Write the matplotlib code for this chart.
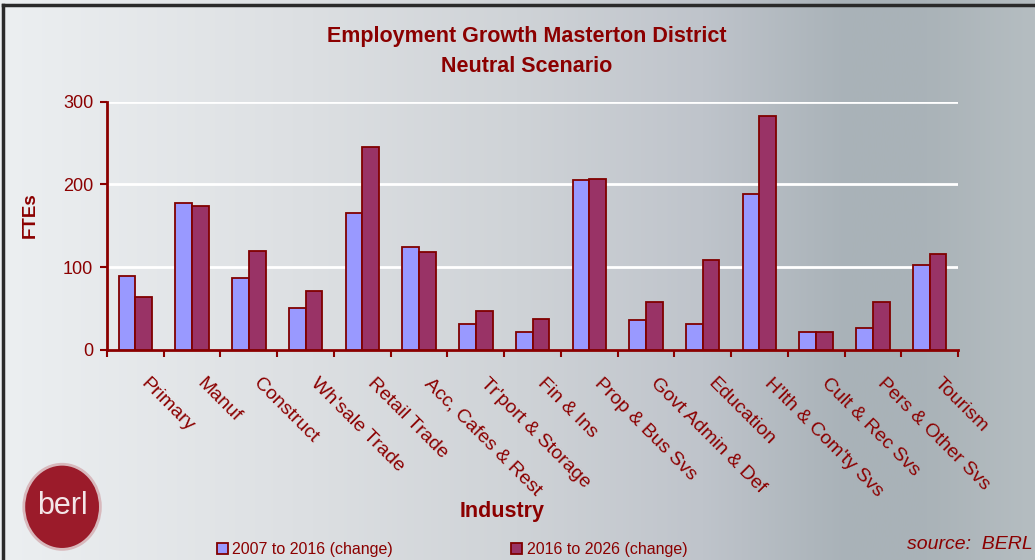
import numpy as np
import matplotlib.pyplot as plt
from matplotlib.patches import Ellipse
from matplotlib.lines import Line2D
from matplotlib.colors import LinearSegmentedColormap

industries = ["Primary", "Manuf", "Construct", "Wh'sale Trade", "Retail Trade",
              "Acc, Cafes & Rest", "Tr'port & Storage", "Fin & Ins", "Prop & Bus Svs",
              "Govt Admin & Def", "Education", "H'lth & Com'ty Svs", "Cult & Rec Svs",
              "Pers & Other Svs", "Tourism"]
change_07_16 = [89, 178, 87, 51, 165, 125, 31, 22, 205, 36, 31, 189, 22, 27, 103]
change_16_26 = [64, 174, 120, 71, 245, 118, 47, 38, 207, 58, 109, 283, 22, 58, 116]
series_names = ["2007 to 2016 (change)", "2016 to 2026 (change)"]
yticks = [0, 100, 200, 300]

dark_red = "#8b0000"
edge_red = "#800000"
plt.rcParams["font.family"] = ["Liberation Sans", "DejaVu Sans"]

fig = plt.figure(figsize=(10.35, 5.6), dpi=100)

# grey backdrop shading from light on the left to darker on the right
bg = fig.add_axes([0, 0, 1, 1], zorder=-10)
grey = LinearSegmentedColormap.from_list("bg", [
    (0.0, "#eceff1"), (0.3, "#dcdfe2"), (0.5, "#cfd3d7"), (0.68, "#bfc4cb"),
    (0.82, "#a9b2b8"), (0.9, "#aab3b8"), (1.0, "#b5bdc1")])
bg.imshow(np.linspace(0, 1, 400)[None, :], aspect="auto", cmap=grey,
          extent=[0, 1, 0, 1], interpolation="bicubic")
bg.set_xlim(0, 1)
bg.set_ylim(0, 1)
bg.axis("off")

# frame lines at the top and left edge
fig.add_artist(Line2D([0.003, 1], [0.991, 0.991], color="#2a2a2a", lw=2.5))
fig.add_artist(Line2D([0.003, 0.003], [0, 0.991], color="#2a2a2a", lw=2.5))

ax = fig.add_axes([0.1034, 0.375, 0.8222, 0.4434])
ax.set_facecolor("none")

x = np.arange(len(industries))
w = 0.295
b1 = ax.bar(x - w / 2, change_07_16, w, color="#9999ff", edgecolor=edge_red, linewidth=1.3,
            label=series_names[0], zorder=3)
b2 = ax.bar(x + w / 2, change_16_26, w, color="#993366", edgecolor=edge_red, linewidth=1.3,
            label=series_names[1], zorder=3)

ax.set_xlim(-0.5, len(industries) - 0.5)
ax.set_ylim(0, 300)
ax.set_yticks(yticks)
ax.set_yticklabels([str(v) for v in yticks], fontsize=13, color=dark_red)
ax.yaxis.grid(True, color="white", lw=2, zorder=0)
ax.tick_params(axis="y", length=5, width=1.5, color=dark_red, direction="out", pad=5)

# category ticks sit between groups, labels slant down to the right
ax.set_xticks(np.arange(len(industries) + 1) - 0.5)
ax.set_xticklabels([])
ax.tick_params(axis="x", length=5, width=1.5, color=dark_red, direction="out")
for i, name in enumerate(industries):
    ax.text(i + 0.24, -30, name, rotation=-45, rotation_mode="anchor", ha="left", va="top",
            fontsize=14, color=dark_red)

for side in ["top", "right"]:
    ax.spines[side].set_visible(False)
for side in ["left", "bottom"]:
    ax.spines[side].set_color(dark_red)
    ax.spines[side].set_linewidth(2)

fig.text(0.509, 0.934, "Employment Growth Masterton District", ha="center", va="center",
         fontsize=15.5, fontweight="bold", color=dark_red)
fig.text(0.509, 0.882, "Neutral Scenario", ha="center", va="center",
         fontsize=15.5, fontweight="bold", color=dark_red)
fig.text(0.029, 0.616, "FTEs", rotation=90, ha="center", va="center",
         fontsize=13.5, fontweight="bold", color=dark_red)
fig.text(0.485, 0.086, "Industry", ha="center", va="center",
         fontsize=15.5, fontweight="bold", color=dark_red)
fig.text(0.876, 0.027, "source:  BERL", ha="left", va="center", style="italic",
         fontsize=14, color=dark_red)

leg = fig.legend(handles=[b1, b2], loc="center left", bbox_to_anchor=(0.196, 0.018),
                 ncol=2, frameon=False, handlelength=0.65, handleheight=0.65,
                 handletextpad=0.3, columnspacing=7.4, prop={"size": 11.5})
for t in leg.get_texts():
    t.set_color(dark_red)

# berl logo
logo = Ellipse((0.06, 0.095), 0.074, 0.152, transform=fig.transFigure,
               facecolor="#9b1b2a", edgecolor="#d8b8bc", lw=2)
fig.add_artist(logo)
fig.text(0.06, 0.097, "berl", ha="center", va="center", fontsize=22,
         color="#f3e6e8")

fig.savefig("out.png", dpi=100)
